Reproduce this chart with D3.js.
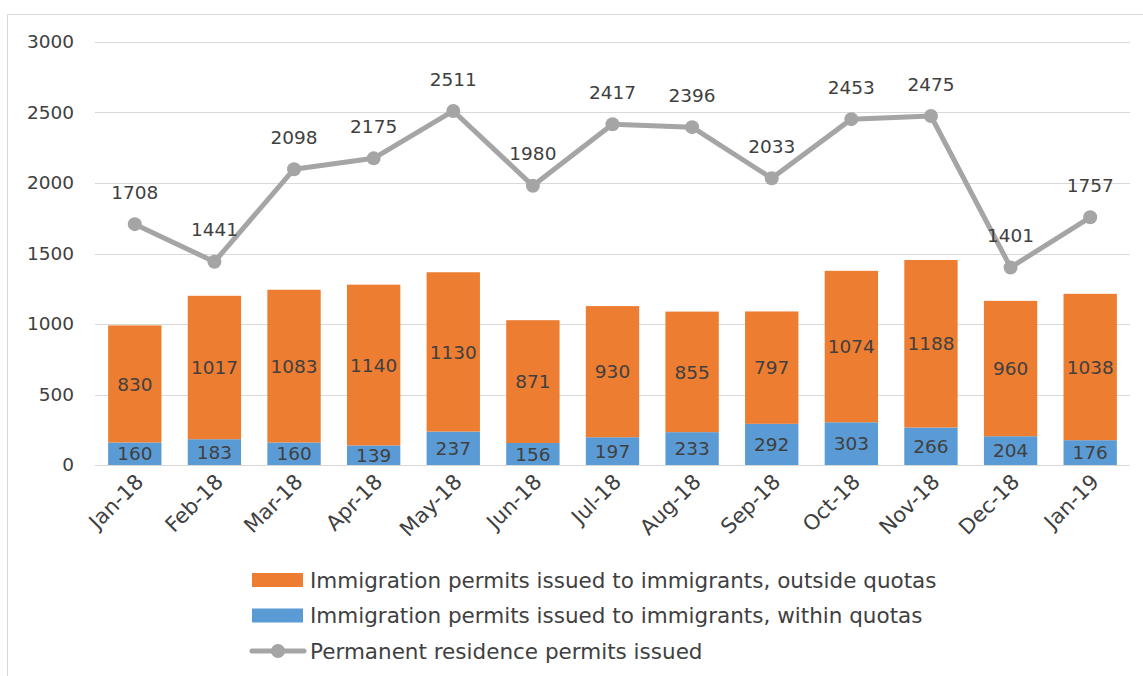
<!DOCTYPE html>
<html><head><meta charset="utf-8">
<script src="https://cdn.jsdelivr.net/npm/d3@7"></script>
<style>body{margin:0;background:#fff;} text{font-family:"DejaVu Sans",sans-serif;}</style>
</head><body>
<svg id="c" width="1143" height="676"></svg>
<script>
const categories = ["Jan-18","Feb-18","Mar-18","Apr-18","May-18","Jun-18","Jul-18","Aug-18","Sep-18","Oct-18","Nov-18","Dec-18","Jan-19"];
const withinQuotas = [160,183,160,139,237,156,197,233,292,303,266,204,176];
const outsideQuotas = [830,1017,1083,1140,1130,871,930,855,797,1074,1188,960,1038];
const permanentResidence = [1708,1441,2098,2175,2511,1980,2417,2396,2033,2453,2475,1401,1757];
const yTicks = [0,500,1000,1500,2000,2500,3000];
const seriesNames = ["Immigration permits issued to immigrants, outside quotas","Immigration permits issued to immigrants, within quotas","Permanent residence permits issued"];

(function(){
const svg = d3.select("#c");
const orange = "#ED7D31", blue = "#5B9BD5", grey = "#A5A5A5", txt = "#404040";
const FONT = "'DejaVu Sans',sans-serif", FS = "18.5px";
const pL = 95, pR = 1130, pT = 42, pB = 465;

svg.append("rect").attr("x",7.5).attr("y",14.5).attr("width",1150).attr("height",700)
  .attr("fill","none").attr("stroke","#D9D9D9").attr("stroke-width",1);

const x = d3.scaleBand().domain(categories).range([pL,pR]).paddingInner(0.33).paddingOuter(0.165);
const y = d3.scaleLinear().domain([0,3000]).range([pB,pT]);

svg.append("g").selectAll("line").data(yTicks).join("line")
  .attr("x1",pL).attr("x2",pR).attr("y1",d=>Math.round(y(d))+0.5).attr("y2",d=>Math.round(y(d))+0.5)
  .attr("stroke","#D9D9D9").attr("stroke-width",1);

const yAxis = d3.axisLeft(y).tickValues(yTicks).tickFormat(d3.format("d")).tickSize(0).tickPadding(0);
const ya = svg.append("g").attr("transform",`translate(${pL-21},0)`).call(yAxis);
ya.select(".domain").remove();
ya.selectAll("text").attr("fill",txt).style("font-size",FS).style("font-family",FONT);

const stack = categories.map((c,i)=>({c, w:withinQuotas[i], o:outsideQuotas[i]}));
svg.append("g").selectAll("rect").data(stack).join("rect")
  .attr("x",d=>x(d.c)).attr("width",x.bandwidth())
  .attr("y",d=>y(d.w)).attr("height",d=>y(0)-y(d.w)).attr("fill",blue);
svg.append("g").selectAll("rect").data(stack).join("rect")
  .attr("x",d=>x(d.c)).attr("width",x.bandwidth())
  .attr("y",d=>y(d.w+d.o)).attr("height",d=>y(d.w)-y(d.w+d.o)).attr("fill",orange);

svg.append("g").selectAll("text").data(stack).join("text")
  .attr("x",d=>x(d.c)+x.bandwidth()/2).attr("y",d=>y(d.w/2)).attr("dy","0.36em")
  .attr("text-anchor","middle").attr("fill",txt).style("font-size",FS).text(d=>d.w);
svg.append("g").selectAll("text").data(stack).join("text")
  .attr("x",d=>x(d.c)+x.bandwidth()/2).attr("y",d=>y(d.w+d.o/2)).attr("dy","0.36em")
  .attr("text-anchor","middle").attr("fill",txt).style("font-size",FS).text(d=>d.o);

svg.append("line").attr("x1",pL).attr("x2",pR).attr("y1",pB+0.5).attr("y2",pB+0.5).attr("stroke","#D9D9D9");
const xa = svg.append("g").attr("transform",`translate(0,${pB})`).call(d3.axisBottom(x).tickSize(0).tickPadding(0));
xa.select(".domain").remove();
xa.selectAll("text").attr("fill",txt).style("font-size","21px").style("font-family",FONT)
  .attr("text-anchor","end").attr("dy","0").attr("transform","translate(10,18) rotate(-45)");

const pts = categories.map((c,i)=>({c,v:permanentResidence[i]}));
const cx = d=>x(d.c)+x.bandwidth()/2;
svg.append("path").datum(pts).attr("fill","none").attr("stroke",grey).attr("stroke-width",5).attr("stroke-linejoin","round")
  .attr("d",d3.line().x(cx).y(d=>y(d.v)));
svg.append("g").selectAll("circle").data(pts).join("circle").attr("cx",cx).attr("cy",d=>y(d.v)).attr("r",7).attr("fill",grey);
svg.append("g").selectAll("text").data(pts).join("text")
  .attr("x",cx).attr("y",d=>y(d.v)-32).attr("dy","0.36em").attr("text-anchor","middle").attr("fill",txt)
  .style("font-size",FS).text(d=>d.v);

const lg = svg.append("g");
const rows = [{n:seriesNames[0],t:"rect",c:orange},{n:seriesNames[1],t:"rect",c:blue},{n:seriesNames[2],t:"line",c:grey}];
rows.forEach((r,i)=>{
  const yy = 580 + i*35.5;
  if(r.t==="rect"){
    lg.append("rect").attr("x",252).attr("y",yy-7).attr("width",51).attr("height",14).attr("fill",r.c);
  } else {
    lg.append("line").attr("x1",252).attr("x2",304).attr("y1",yy).attr("y2",yy).attr("stroke",r.c).attr("stroke-width",5).attr("stroke-linecap","round");
    lg.append("circle").attr("cx",278).attr("cy",yy).attr("r",7).attr("fill",r.c);
  }
  lg.append("text").attr("x",310).attr("y",yy).attr("dy","0.36em").attr("fill",txt).style("font-size","21.5px").text(r.n);
});
})();
</script>
</body></html>
